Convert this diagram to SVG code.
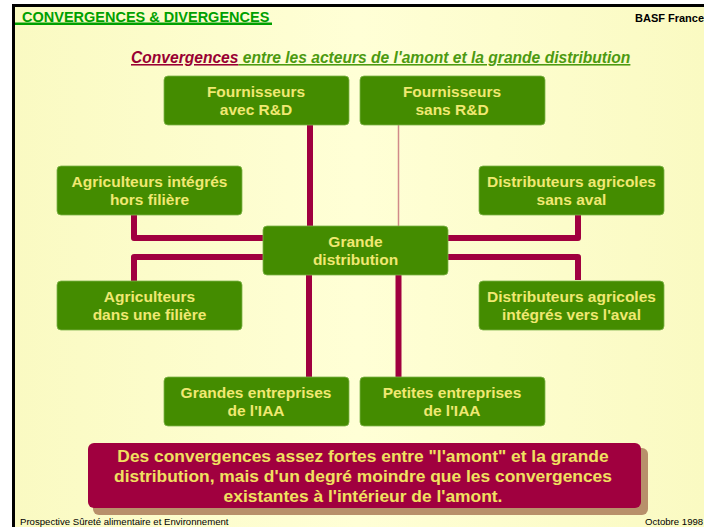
<svg xmlns="http://www.w3.org/2000/svg" width="704" height="527" viewBox="0 0 704 527">
<defs>
<linearGradient id="bg" x1="0" y1="0" x2="1" y2="0">
<stop offset="0" stop-color="#FAFAC2"/>
<stop offset="0.5" stop-color="#FFFFD6"/>
<stop offset="1" stop-color="#FAFAC2"/>
</linearGradient>
<style>
.node rect{fill:#448C00;stroke:#7FB44A;stroke-width:0.8}
.node text{font-family:"Liberation Sans",Arial,sans-serif;font-weight:bold;font-size:15.5px;fill:#F0E872;text-anchor:middle}
.conn{fill:none;stroke:#A0003F;stroke-width:6;stroke-linejoin:round}
.thin{fill:none;stroke:#D08A8A;stroke-width:1.5}
.sans{font-family:"Liberation Sans",Arial,sans-serif}
</style>
</defs>
<rect x="0" y="0" width="704" height="527" fill="#FFFFFF"/>
<rect x="12" y="4" width="692" height="523" fill="url(#bg)"/>
<rect x="12" y="4" width="692" height="3" fill="#000"/>
<rect x="12" y="4" width="3" height="523" fill="#000"/>

<g id="header">
<text x="22" y="21.5" class="sans" font-weight="bold" font-size="14.5" fill="#00A000">CONVERGENCES &amp; DIVERGENCES</text>
<rect x="15" y="22.5" width="257" height="2.5" fill="#00A000"/>
<text x="635" y="22" class="sans" font-weight="bold" font-size="11" fill="#000">BASF France</text>
</g>

<g id="title">
<text x="131" y="63" class="sans" font-weight="bold" font-style="italic" font-size="15.6"><tspan fill="#990033" text-decoration="underline">Convergences</tspan><tspan fill="#4C9A10" text-decoration="underline"> entre les acteurs de l'amont et la grande distribution</tspan></text>
</g>

<g id="connectors">
<path class="conn" d="M310,125 V226"/>
<path class="thin" d="M398.5,125 V226"/>
<path class="conn" d="M134,215 V238 H263"/>
<path class="conn" d="M578,215 V238 H448"/>
<path class="conn" d="M263,257 H134 V281"/>
<path class="conn" d="M448,257 H578 V280"/>
<path class="conn" d="M309,275 V377"/>
<path class="conn" d="M398.5,275 V377"/>
</g>

<g id="fournisseurs-rd" class="node">
<rect x="164" y="76" width="185" height="49" rx="4"/>
<text x="256" y="97">Fournisseurs</text>
<text x="256" y="115">avec R&amp;D</text>
</g>
<g id="fournisseurs-sans" class="node">
<rect x="360" y="76" width="185" height="49" rx="4"/>
<text x="452" y="97">Fournisseurs</text>
<text x="452" y="115">sans R&amp;D</text>
</g>
<g id="agri-hors" class="node">
<rect x="57" y="166" width="185" height="49" rx="4"/>
<text x="149.5" y="187">Agriculteurs intégrés</text>
<text x="149.5" y="205">hors filière</text>
</g>
<g id="distrib-sans" class="node">
<rect x="479" y="166" width="185" height="49" rx="4"/>
<text x="571.5" y="187">Distributeurs agricoles</text>
<text x="571.5" y="205">sans aval</text>
</g>
<g id="grande-distribution" class="node">
<rect x="263" y="226" width="185" height="49" rx="4"/>
<text x="355.5" y="247">Grande</text>
<text x="355.5" y="265">distribution</text>
</g>
<g id="agri-filiere" class="node">
<rect x="57" y="281" width="185" height="49" rx="4"/>
<text x="149.5" y="302">Agriculteurs</text>
<text x="149.5" y="320">dans une filière</text>
</g>
<g id="distrib-aval" class="node">
<rect x="479" y="281" width="185" height="49" rx="4"/>
<text x="571.5" y="302">Distributeurs agricoles</text>
<text x="571.5" y="320">intégrés vers l'aval</text>
</g>
<g id="grandes-iaa" class="node">
<rect x="164" y="377" width="185" height="49" rx="4"/>
<text x="256" y="398">Grandes entreprises</text>
<text x="256" y="416">de l'IAA</text>
</g>
<g id="petites-iaa" class="node">
<rect x="360" y="377" width="185" height="49" rx="4"/>
<text x="452" y="398">Petites entreprises</text>
<text x="452" y="416">de l'IAA</text>
</g>

<g id="message">
<rect x="93" y="448" width="555" height="67" rx="6" fill="#B8906A"/>
<rect x="88" y="443" width="553" height="65" rx="6" fill="#A0003F"/>
<g class="sans" font-weight="bold" font-size="17.4" fill="#F0E060" text-anchor="middle">
<text x="363" y="462">Des convergences assez fortes entre "l'amont" et la grande</text>
<text x="363" y="482">distribution, mais d'un degré moindre que les convergences</text>
<text x="363" y="502">existantes à l'intérieur de l'amont.</text>
</g>
</g>

<g id="footer">
<text x="20" y="525" class="sans" font-size="9.6" fill="#000">Prospective Sûreté alimentaire et Environnement</text>
<text x="645" y="525" class="sans" font-size="9.6" fill="#000">Octobre 1998</text>
</g>
</svg>
